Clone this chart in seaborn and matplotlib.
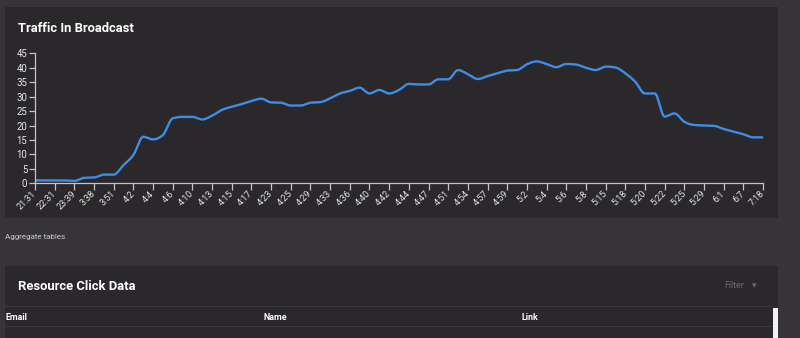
import numpy as np
import pandas as pd
import matplotlib
matplotlib.use("Agg")
import matplotlib.pyplot as plt
from matplotlib.patches import Rectangle
import seaborn as sns

# Visitor counts sampled twice per labelled time step (every second sample is labelled)
tick_labels = ["21:31", "22:31", "23:39", "3:38", "3:51", "4:2", "4:4", "4:6", "4:10",
               "4:13", "4:15", "4:17", "4:23", "4:25", "4:29", "4:33", "4:36", "4:40",
               "4:42", "4:44", "4:47", "4:51", "4:54", "4:57", "4:59", "5:2", "5:4",
               "5:6", "5:8", "5:15", "5:18", "5:20", "5:22", "5:25", "5:29", "6:1",
               "6:7", "7:18"]
traffic = [1, 1, 1, 1, 0.8, 1.9, 2, 3, 3, 6.3,
           9.8, 16.1, 15.2, 16.7, 22.5, 23, 23, 22.1, 23.4, 25.4,
           26.5, 27.4, 28.5, 29.3, 28, 27.9, 26.9, 26.9, 27.9, 28.1,
           29.4, 31.1, 32, 33.1, 31.1, 32.3, 31.1, 32.3, 34.4, 34.2,
           34.2, 36, 36, 39.2, 37.8, 36.1, 37.1, 38.1, 39, 39.2,
           41.2, 42.2, 41.3, 40.2, 41.3, 41.1, 40, 39.2, 40.4, 40.1,
           38.1, 35.2, 31.1, 31.1, 23.1, 24.2, 21.3, 20.2, 20, 19.9,
           18.8, 17.9, 17, 15.9, 15.9]
y_ticks = [0, 5, 10, 15, 20, 25, 30, 35, 40, 45]

PAGE = "#363439"
PANEL = "#2a282b"
LINE = "#3f8ce6"
AXIS = "#c4c4c4"
TEXT = "#e6e6e6"

W, H = 800, 338


def monotone_x(x, y, n=1600):
    """Monotone cubic (Steffen) interpolation, as in d3.curveMonotoneX."""
    x = np.asarray(x, float)
    y = np.asarray(y, float)
    h = np.diff(x)
    s = np.diff(y) / h
    m = np.empty_like(y)
    p = (s[:-1] * h[1:] + s[1:] * h[:-1]) / (h[:-1] + h[1:])
    m[1:-1] = (np.sign(s[:-1]) + np.sign(s[1:])) * np.minimum(
        np.minimum(np.abs(s[:-1]), np.abs(s[1:])), 0.5 * np.abs(p))
    m[0] = (3 * s[0] - m[1]) / 2
    m[-1] = (3 * s[-1] - m[-2]) / 2
    xs = np.linspace(x[0], x[-1], n)
    idx = np.clip(np.searchsorted(x, xs, side="right") - 1, 0, len(x) - 2)
    t = (xs - x[idx]) / h[idx]
    h00 = 2 * t**3 - 3 * t**2 + 1
    h10 = t**3 - 2 * t**2 + t
    h01 = -2 * t**3 + 3 * t**2
    h11 = t**3 - t**2
    ys = h00 * y[idx] + h10 * h[idx] * m[idx] + h01 * y[idx + 1] + h11 * h[idx] * m[idx + 1]
    return xs, ys


sns.set_style("ticks")
plt.rcParams["font.family"] = ["Roboto", "DejaVu Sans"]

fig = plt.figure(figsize=(W / 100, H / 100), dpi=100)
fig.patch.set_facecolor(PAGE)


def fx(px):
    return px / W


def fy(py):
    return 1 - py / H


def panel(x0, y0, x1, y1, color, z=-5):
    fig.patches.append(Rectangle((fx(x0), fy(y1)), fx(x1) - fx(x0), fy(y0) - fy(y1),
                                 transform=fig.transFigure, facecolor=color,
                                 edgecolor="none", zorder=z))


# Dashboard cards
panel(5, 7, 778, 218, PANEL)
panel(5, 266, 778, 345, PANEL)

fig.text(fx(18), fy(28), "Traffic In Broadcast", color="white", fontsize=9.4,
         fontweight="bold", va="center", ha="left")

# Line chart
ax = fig.add_axes([fx(35), fy(183.3), fx(763) - fx(35), fy(53.3) - fy(183.3)])
ax.set_facecolor("none")
ax.set_zorder(2)

sample_idx = np.arange(len(traffic))
xs, ys = monotone_x(sample_idx, traffic)
curve = pd.DataFrame({"step": xs, "visitors": ys})
sns.lineplot(data=curve, x="step", y="visitors", ax=ax, color=LINE, linewidth=1.7)

ax.set_xlim(0, len(traffic) - 1)
ax.set_ylim(0, 45)
ax.set_xticks(sample_idx[::2])
ax.set_xticklabels(tick_labels, rotation=45, ha="right", va="center",
                   rotation_mode="anchor")
ax.set_yticks(y_ticks)
ax.set_yticklabels([str(v) for v in y_ticks])
ax.set_xlabel("")
ax.set_ylabel("")
for side in ("top", "right"):
    ax.spines[side].set_visible(False)
for side in ("left", "bottom"):
    ax.spines[side].set_color(AXIS)
    ax.spines[side].set_linewidth(0.9)
ax.tick_params(axis="y", length=4.5, width=0.9, color=AXIS, labelcolor=TEXT,
               labelsize=6.9, pad=1)
ax.tick_params(axis="x", length=5, width=0.9, color=AXIS, labelcolor=TEXT,
               labelsize=6.5, pad=1.5)
ax.grid(False)

# Section caption and the table card below the chart
fig.text(fx(5), fy(237), "Aggregate tables", color="#c9c9c9", fontsize=5.8,
         va="center", ha="left")
fig.text(fx(18), fy(286), "Resource Click Data", color="white", fontsize=9.4,
         fontweight="bold", va="center", ha="left")
fig.text(fx(724), fy(286), "Filter", color="#6c6a6e", fontsize=6.4,
         va="center", ha="left")
fig.text(fx(754), fy(286), "\u25be", color="#6c6a6e", fontsize=6.4,
         va="center", ha="center", family=["DejaVu Sans"])

for yline in (306, 326):
    fig.add_artist(plt.Line2D([fx(5), fx(771)], [fy(yline), fy(yline)],
                              transform=fig.transFigure, color="#3b393d", lw=0.8))

for xpos, label in ((5, "Email"), (263, "Name"), (521, "Link")):
    fig.text(fx(xpos), fy(317), label, color="white", fontsize=6.4,
             fontweight="bold", va="center", ha="left")

# Scrollbar thumb
panel(773, 308, 777.5, 345, "#f2f2f2", z=3)

fig.savefig("out.png", dpi=100, facecolor=fig.get_facecolor())
